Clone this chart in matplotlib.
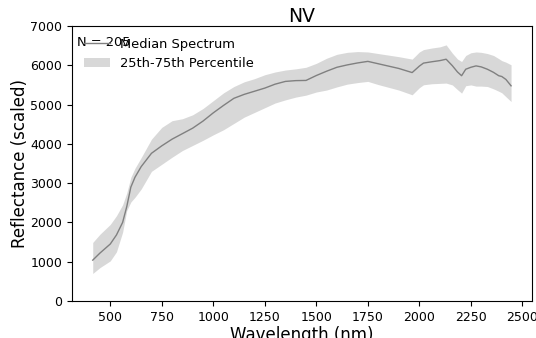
import matplotlib
matplotlib.use("Agg")
import matplotlib.pyplot as plt

# wavelength (nm) and reflectance values
wavelengths = [415, 450, 500, 530, 560, 580, 600, 620, 650, 700, 750, 800, 850, 900,
               950, 1000, 1050, 1100, 1150, 1200, 1250, 1300, 1350, 1400, 1450, 1500,
               1550, 1600, 1650, 1700, 1750, 1800, 1850, 1900, 1965, 2000, 2020, 2060,
               2100, 2130, 2160, 2185, 2205, 2225, 2250, 2275, 2300, 2330, 2360, 2385,
               2400, 2420, 2445]
median = [1040, 1220, 1450, 1680, 2000, 2400, 2900, 3150, 3420, 3760, 3950, 4120, 4260,
          4400, 4580, 4790, 4980, 5160, 5260, 5340, 5420, 5520, 5590, 5610, 5615, 5740,
          5850, 5950, 6010, 6060, 6100, 6040, 5980, 5920, 5815, 5980, 6056, 6090, 6120,
          6155, 5990, 5830, 5735, 5900, 5950, 5985, 5960, 5900, 5820, 5735, 5715, 5640,
          5478]
p75 = [1490, 1700, 1950, 2170, 2450, 2750, 3150, 3380, 3650, 4120, 4420, 4590, 4640,
       4740, 4900, 5100, 5300, 5460, 5580, 5660, 5760, 5830, 5880, 5910, 5950, 6050,
       6180, 6280, 6330, 6350, 6340, 6300, 6260, 6220, 6158, 6340, 6400, 6440, 6470,
       6520, 6310, 6160, 6097, 6250, 6320, 6340, 6330, 6300, 6250, 6170, 6120, 6080,
       6013]
p25 = [700, 850, 1020, 1250, 1750, 2300, 2520, 2640, 2850, 3300, 3480, 3660, 3830,
       3960, 4090, 4230, 4360, 4520, 4680, 4800, 4920, 5040, 5120, 5190, 5240, 5320,
       5370, 5450, 5520, 5560, 5590, 5510, 5440, 5370, 5249, 5430, 5504, 5530, 5540,
       5547, 5500, 5380, 5292, 5480, 5500, 5470, 5470, 5460, 5400, 5340, 5300, 5200,
       5078]
n_samples = 205

fig = plt.figure(figsize=(5.36, 3.38), dpi=100)
ax = fig.add_axes([0.134, 0.1095, 0.8585, 0.8135])

ax.plot(wavelengths, median, color="gray", linewidth=1, label="Median Spectrum")
ax.fill_between(wavelengths, p25, p75, color="gray", alpha=0.3, linewidth=0,
                label="25th-75th Percentile")

ax.set_ylim(0, 7000)
ax.set_xticks([500, 750, 1000, 1250, 1500, 1750, 2000, 2250, 2500])
ax.tick_params(labelsize=9)
ax.set_xlabel("Wavelength (nm)", fontsize=12, labelpad=2)
ax.set_ylabel("Reflectance (scaled)", fontsize=12, labelpad=1)
ax.set_title("NV", fontsize=13.5, pad=3)

ax.legend(loc="upper left", frameon=False, fontsize=9.4)
ax.text(0.012, 0.965, f"N = {n_samples}", transform=ax.transAxes,
        fontsize=9.4, va="top", ha="left")

plt.savefig("out.png", dpi=100)
